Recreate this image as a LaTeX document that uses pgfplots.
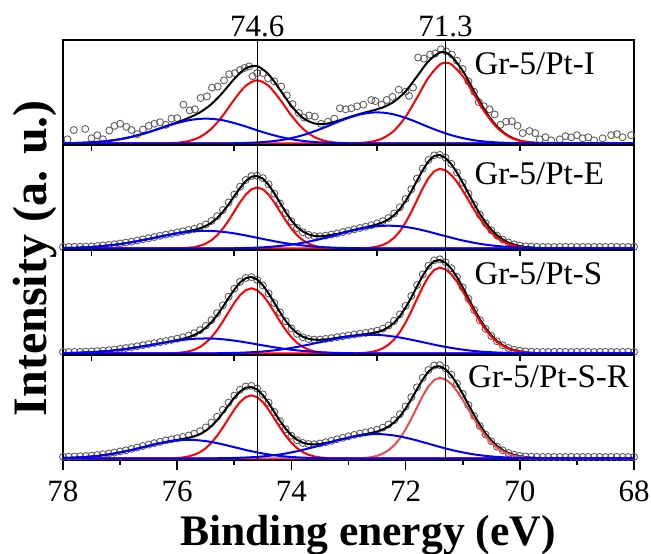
\documentclass[border=0pt]{standalone}
\usepackage{pgfplots}
\usepackage{pgfplotstable}
\pgfplotsset{compat=1.18}
\usepackage{fontspec}
\setmainfont{Liberation Serif}
\definecolor{dgray}{RGB}{95,95,95}
\definecolor{lred}{RGB}{240,75,75}

\pgfplotstableread{
x r1 r2 b1 b2 env
78.0 0 0 .002 0 .002
77.8 0 0 .004 0 .004
77.6 0 0 .008 0 .008
77.4 0 0 .014 0 .014
77.2 0 0 .025 0 .025
77.0 0 0 .041 0 .041
76.8 0 0 .064 0 .064
76.6 0 0 .093 0 .093
76.4 0 0 .127 0 .127
76.2 .002 0 .164 0 .166
76.0 .007 0 .197 0 .204
75.8 .023 0 .224 0 .247
75.6 .063 0 .238 0 .301
75.4 .143 0 .238 0 .381
75.2 .270 0 .224 0 .494
75.0 .425 0 .197 .002 .624
74.8 .557 0 .164 .005 .726
74.6 .610 0 .127 .010 .747
74.4 .557 0 .093 .018 .668
74.2 .425 0 .064 .031 .520
74.0 .270 0 .041 .052 .363
73.8 .143 0 .025 .080 .248
73.6 .063 0 .014 .117 .194
73.4 .023 0 .008 .159 .190
73.2 .007 0 .004 .205 .216
73.0 .002 .001 .002 .247 .252
72.8 0 .005 .001 .280 .286
72.6 0 .017 0 .298 .315
72.4 0 .050 0 .298 .348
72.2 0 .125 0 .280 .405
72.0 0 .257 0 .247 .504
71.8 0 .443 0 .205 .648
71.6 0 .636 0 .159 .795
71.4 0 .763 0 .117 .880
71.3 0 .780 0 .098 .878
71.2 0 .765 0 .080 .845
71.0 0 .651 0 .052 .703
70.8 0 .473 0 .031 .504
70.6 0 .293 0 .018 .311
70.4 0 .154 0 .010 .164
70.2 0 .069 0 .005 .074
70.0 0 .026 0 .002 .028
69.8 0 .009 0 .001 .010
69.6 0 .002 0 0 .002
69.4 0 0 0 0 0
69.2 0 0 0 0 0
69.0 0 0 0 0 0
68.8 0 0 0 0 0
68.6 0 0 0 0 0
68.4 0 0 0 0 0
68.2 0 0 0 0 0
68.0 0 0 0 0 0
}\pone

\pgfplotstableread{
x y
77.92 0.04
77.81 0.13
77.61 0.14
77.50 0.05
77.40 0.08
77.30 0.04
77.19 0.125
77.10 0.17
77.00 0.19
76.89 0.16
76.80 0.13
76.70 0.09
76.60 0.135
76.50 0.17
76.40 0.19
76.30 0.205
76.20 0.18
76.10 0.24
76.00 0.245
75.89 0.375
75.78 0.32
75.69 0.33
75.59 0.44
75.48 0.455
75.39 0.54
75.29 0.55
75.18 0.61
75.09 0.67
74.99 0.68
74.90 0.71
74.82 0.73
74.74 0.745
74.68 0.65
74.60 0.68
74.50 0.68
74.41 0.63
74.30 0.60
74.18 0.55
74.08 0.465
73.98 0.38
73.87 0.295
73.78 0.25
73.69 0.27
73.59 0.26
73.48 0.19
73.36 0.21
73.25 0.24
73.15 0.34
73.05 0.33
72.95 0.34
72.85 0.36
72.74 0.375
72.60 0.42
72.53 0.41
72.42 0.375
72.33 0.42
72.23 0.45
72.12 0.52
72.00 0.50
71.94 0.46
71.87 0.54
71.78 0.83
71.68 0.82
71.57 0.86
71.48 0.87
71.38 0.91
71.29 0.89
71.19 0.86
71.10 0.80
71.00 0.72
70.90 0.60
70.80 0.50
70.72 0.40
70.63 0.36
70.53 0.33
70.44 0.28
70.34 0.18
70.24 0.21
70.14 0.215
70.04 0.17
69.95 0.10
69.83 0.12
69.73 0.10
69.65 0.04
69.55 0.06
69.45 0.03
69.30 0.04
69.20 0.07
69.10 0.06
69.00 0.08
68.90 0.05
68.80 0.06
68.70 0.03
68.55 0.05
68.40 0.08
68.30 0.09
68.20 0.06
68.05 0.08
}\poned

\pgfplotstableread{
x r1 r2 b1 b2 env dat
78.0 0 0 .004 0 .004 .015
77.9 0 0 .005 0 .005 .015
77.8 0 0 .006 0 .006 .016
77.7 0 0 .009 0 .009 .017
77.6 0 0 .011 0 .011 .018
77.5 0 0 .014 0 .014 .020
77.4 0 0 .018 0 .018 .024
77.3 0 0 .023 0 .023 .029
77.2 0 0 .029 0 .029 .035
77.1 0 0 .035 0 .035 .041
77.0 0 0 .042 0 .042 .048
76.9 0 0 .051 0 .051 .057
76.8 0 0 .060 0 .060 .066
76.7 0 0 .070 0 .070 .077
76.6 0 0 .081 0 .081 .088
76.5 0 0 .092 0 .092 .099
76.4 0 0 .103 0 .103 .110
76.3 0 0 .115 0 .115 .122
76.2 0 0 .126 0 .126 .133
76.1 .001 0 .136 0 .137 .144
76.0 .001 0 .146 0 .147 .155
75.9 .003 0 .154 0 .157 .166
75.8 .007 0 .161 0 .168 .178
75.7 .013 0 .166 0 .179 .190
75.6 .026 0 .169 0 .195 .208
75.5 .047 0 .170 0 .217 .232
75.4 .080 0 .169 0 .249 .266
75.3 .127 0 .166 .001 .294 .312
75.2 .192 0 .161 .001 .354 .372
75.1 .270 0 .154 .002 .426 .445
75.0 .358 0 .146 .002 .506 .522
74.9 .445 0 .136 .003 .584 .598
74.8 .521 0 .126 .005 .652 .662
74.7 .572 0 .115 .006 .693 .700
74.6 .590 0 .103 .008 .701 .703
74.5 .572 0 .092 .011 .675 .680
74.4 .521 0 .081 .014 .616 .620
74.3 .445 0 .070 .019 .534 .530
74.2 .358 0 .060 .024 .442 .435
74.1 .270 0 .051 .030 .351 .343
74.0 .192 0 .042 .037 .271 .262
73.9 .127 0 .035 .045 .207 .198
73.8 .080 0 .029 .055 .164 .157
73.7 .047 0 .023 .066 .136 .132
73.6 .026 0 .018 .077 .121 .120
73.5 .013 0 .014 .090 .117 .118
73.4 .007 0 .011 .104 .122 .124
73.3 .003 0 .009 .119 .131 .134
73.2 .001 0 .006 .133 .140 .144
73.1 .001 0 .005 .148 .154 .158
73.0 0 0 .004 .163 .167 .171
72.9 0 .001 .003 .176 .180 .185
72.8 0 .002 .002 .189 .193 .198
72.7 0 .004 .001 .199 .204 .210
72.6 0 .009 .001 .208 .218 .225
72.5 0 .018 0 .215 .233 .242
72.4 0 .034 0 .219 .253 .264
72.3 0 .061 0 .220 .281 .294
72.2 0 .104 0 .219 .323 .338
72.1 0 .166 0 .215 .381 .398
72.0 0 .250 0 .208 .458 .478
71.9 0 .353 0 .199 .552 .572
71.8 0 .467 0 .189 .656 .675
71.7 0 .581 0 .176 .757 .772
71.6 0 .680 0 .163 .843 .855
71.5 0 .746 0 .148 .894 .900
71.4 0 .770 0 .133 .903 .905
71.3 0 .755 0 .119 .874 .878
71.2 0 .711 0 .104 .815 .818
71.1 0 .643 0 .090 .733 .735
71.0 0 .559 0 .077 .636 .636
70.9 0 .467 0 .066 .533 .530
70.8 0 .375 0 .055 .430 .424
70.7 0 .289 0 .045 .334 .326
70.6 0 .214 0 .037 .251 .243
70.5 0 .152 0 .030 .182 .176
70.4 0 .104 0 .024 .128 .124
70.3 0 .069 0 .019 .088 .086
70.2 0 .043 0 .014 .057 .058
70.1 0 .026 0 .011 .037 .040
70.0 0 .015 0 .008 .023 .028
69.9 0 .008 0 .006 .014 .021
69.8 0 .005 0 .005 .010 .018
69.7 0 .002 0 .003 .005 .016
69.6 0 .001 0 .002 .003 .015
69.5 0 0 0 .002 .002 .015
69.4 0 0 0 .001 .001 .014
69.3 0 0 0 .001 .001 .015
69.2 0 0 0 0 0 .016
69.1 0 0 0 0 0 .015
69.0 0 0 0 0 0 .014
68.9 0 0 0 0 0 .015
68.8 0 0 0 0 0 .016
68.7 0 0 0 0 0 .015
68.6 0 0 0 0 0 .014
68.5 0 0 0 0 0 .015
68.4 0 0 0 0 0 .016
68.3 0 0 0 0 0 .015
68.2 0 0 0 0 0 .014
68.1 0 0 0 0 0 .015
68.0 0 0 0 0 0 .016
}\ptwo

\pgfplotstableread{
x r1 r2 b1 b2 env dat
78.0 0 0 .003 0 .003 .014
77.9 0 0 .004 0 .004 .014
77.8 0 0 .006 0 .006 .015
77.7 0 0 .007 0 .007 .016
77.6 0 0 .010 0 .010 .018
77.5 0 0 .012 0 .012 .020
77.4 0 0 .016 0 .016 .023
77.3 0 0 .020 0 .020 .027
77.2 0 0 .024 0 .024 .032
77.1 0 0 .030 0 .030 .038
77.0 0 0 .036 0 .036 .045
76.9 0 0 .043 0 .043 .053
76.8 0 0 .051 0 .051 .061
76.7 0 0 .060 0 .060 .070
76.6 0 0 .069 0 .069 .080
76.5 0 0 .078 0 .078 .090
76.4 0 0 .088 0 .088 .100
76.3 0 0 .098 0 .098 .110
76.2 .001 0 .107 0 .108 .121
76.1 .002 0 .116 0 .118 .131
76.0 .005 0 .124 0 .129 .143
75.9 .011 0 .131 0 .142 .157
75.8 .020 0 .137 0 .157 .173
75.7 .037 0 .142 0 .179 .196
75.6 .063 0 .144 0 .207 .225
75.5 .103 0 .145 .001 .249 .268
75.4 .157 0 .144 .001 .302 .322
75.3 .227 0 .142 .002 .371 .390
75.2 .310 0 .137 .003 .450 .466
75.1 .400 0 .131 .004 .535 .548
75.0 .488 0 .124 .005 .617 .626
74.9 .563 0 .116 .007 .686 .692
74.8 .612 0 .107 .009 .728 .730
74.7 .630 0 .098 .012 .740 .738
74.6 .612 0 .088 .015 .715 .712
74.5 .563 0 .078 .019 .660 .658
74.4 .488 0 .069 .024 .581 .580
74.3 .400 0 .060 .030 .490 .488
74.2 .310 0 .051 .037 .398 .396
74.1 .227 0 .043 .045 .315 .312
74.0 .157 0 .036 .054 .247 .242
73.9 .103 0 .030 .063 .196 .190
73.8 .063 0 .024 .074 .161 .156
73.7 .037 0 .020 .085 .142 .140
73.6 .020 0 .016 .097 .133 .134
73.5 .011 0 .012 .109 .132 .135
73.4 .005 0 .010 .121 .136 .141
73.3 .002 0 .007 .133 .142 .148
73.2 .001 0 .006 .144 .151 .158
73.1 0 0 .004 .154 .158 .166
73.0 0 0 .003 .163 .166 .175
72.9 0 .001 .002 .170 .173 .183
72.8 0 .003 .002 .176 .181 .192
72.7 0 .007 .001 .179 .187 .199
72.6 0 .014 .001 .180 .195 .208
72.5 0 .027 0 .179 .206 .220
72.4 0 .049 0 .176 .225 .240
72.3 0 .084 0 .170 .254 .270
72.2 0 .135 0 .163 .298 .315
72.1 0 .207 0 .154 .361 .378
72.0 0 .299 0 .144 .443 .460
71.9 0 .408 0 .133 .541 .556
71.8 0 .527 0 .121 .648 .662
71.7 0 .643 0 .109 .752 .764
71.6 0 .741 0 .097 .838 .848
71.5 0 .807 0 .085 .892 .900
71.4 0 .830 0 .074 .904 .910
71.3 0 .813 0 .063 .876 .882
71.2 0 .766 0 .054 .820 .824
71.1 0 .693 0 .045 .738 .740
71.0 0 .603 0 .037 .640 .638
70.9 0 .503 0 .030 .533 .528
70.8 0 .404 0 .024 .428 .420
70.7 0 .311 0 .019 .330 .322
70.6 0 .231 0 .015 .246 .238
70.5 0 .164 0 .012 .176 .170
70.4 0 .112 0 .009 .121 .118
70.3 0 .074 0 .007 .081 .080
70.2 0 .046 0 .005 .051 .053
70.1 0 .028 0 .004 .032 .036
70.0 0 .017 0 .003 .020 .026
69.9 0 .009 0 .002 .011 .020
69.8 0 .005 0 .001 .006 .017
69.7 0 .002 0 .001 .003 .015
69.6 0 .001 0 .001 .002 .015
69.5 0 0 0 0 0 .014
69.4 0 0 0 0 0 .015
69.3 0 0 0 0 0 .016
69.2 0 0 0 0 0 .015
69.1 0 0 0 0 0 .014
69.0 0 0 0 0 0 .015
68.9 0 0 0 0 0 .016
68.8 0 0 0 0 0 .015
68.7 0 0 0 0 0 .014
68.6 0 0 0 0 0 .015
68.5 0 0 0 0 0 .016
68.4 0 0 0 0 0 .015
68.3 0 0 0 0 0 .014
68.2 0 0 0 0 0 .015
68.1 0 0 0 0 0 .016
68.0 0 0 0 0 0 .015
}\pthree

\pgfplotstableread{
x r1 r2 b1 b2 env dat
78.0 0 0 .004 0 .004 .016
77.9 0 0 .006 0 .006 .017
77.8 0 0 .008 0 .008 .019
77.7 0 0 .011 0 .011 .021
77.6 0 0 .014 0 .014 .024
77.5 0 0 .019 0 .019 .028
77.4 0 0 .024 0 .024 .033
77.3 0 0 .031 0 .031 .040
77.2 0 0 .039 0 .039 .048
77.1 0 0 .048 0 .048 .057
77.0 0 0 .059 0 .059 .068
76.9 0 0 .070 0 .070 .079
76.8 0 0 .082 0 .082 .092
76.7 0 0 .096 0 .096 .106
76.6 0 0 .109 0 .109 .120
76.5 0 0 .123 0 .123 .134
76.4 0 0 .136 0 .136 .148
76.3 0 0 .148 0 .148 .161
76.2 .001 0 .159 0 .160 .174
76.1 .002 0 .168 0 .170 .185
76.0 .005 0 .174 0 .179 .196
75.9 .010 0 .179 0 .189 .208
75.8 .020 0 .180 0 .200 .222
75.7 .036 0 .179 0 .215 .240
75.6 .061 0 .174 0 .235 .264
75.5 .099 0 .168 .001 .268 .300
75.4 .152 0 .159 .001 .312 .346
75.3 .220 0 .148 .002 .370 .404
75.2 .300 0 .136 .003 .439 .470
75.1 .387 0 .123 .004 .514 .540
75.0 .473 0 .109 .005 .587 .608
74.9 .545 0 .096 .007 .648 .664
74.8 .593 0 .082 .009 .684 .696
74.7 .610 0 .070 .012 .692 .702
74.6 .593 0 .059 .015 .667 .676
74.5 .545 0 .048 .020 .613 .620
74.4 .473 0 .039 .025 .537 .540
74.3 .387 0 .031 .032 .450 .450
74.2 .300 0 .024 .039 .363 .360
74.1 .220 0 .019 .048 .287 .282
74.0 .152 0 .014 .059 .225 .220
73.9 .099 0 .011 .070 .180 .176
73.8 .061 0 .008 .083 .152 .150
73.7 .036 0 .006 .097 .139 .140
73.6 .020 0 .004 .111 .135 .138
73.5 .010 0 .003 .127 .140 .145
73.4 .005 0 .002 .143 .150 .157
73.3 .002 0 .001 .158 .161 .170
73.2 .001 0 .001 .174 .176 .186
73.1 0 0 0 .188 .188 .200
73.0 0 0 0 .201 .201 .214
72.9 0 .001 0 .213 .214 .228
72.8 0 .003 0 .222 .225 .240
72.7 0 .006 0 .229 .235 .251
72.6 0 .013 0 .234 .247 .264
72.5 0 .025 0 .235 .260 .278
72.4 0 .046 0 .234 .280 .298
72.3 0 .079 0 .229 .308 .328
72.2 0 .127 0 .222 .349 .370
72.1 0 .194 0 .213 .407 .428
72.0 0 .281 0 .201 .482 .503
71.9 0 .384 0 .188 .572 .592
71.8 0 .495 0 .174 .669 .688
71.7 0 .605 0 .158 .763 .780
71.6 0 .697 0 .143 .840 .855
71.5 0 .758 0 .127 .885 .898
71.4 0 .780 0 .111 .891 .902
71.3 0 .764 0 .097 .861 .870
71.2 0 .720 0 .083 .803 .810
71.1 0 .651 0 .070 .721 .724
71.0 0 .566 0 .059 .625 .624
70.9 0 .473 0 .048 .521 .516
70.8 0 .380 0 .039 .419 .410
70.7 0 .293 0 .032 .325 .314
70.6 0 .217 0 .025 .242 .232
70.5 0 .154 0 .020 .174 .166
70.4 0 .105 0 .015 .120 .114
70.3 0 .069 0 .012 .081 .078
70.2 0 .044 0 .009 .053 .053
70.1 0 .027 0 .007 .034 .036
70.0 0 .016 0 .005 .021 .026
69.9 0 .009 0 .004 .013 .020
69.8 0 .005 0 .003 .008 .017
69.7 0 .002 0 .002 .004 .016
69.6 0 .001 0 .001 .002 .015
69.5 0 0 0 .001 .001 .015
69.4 0 0 0 0 0 .015
69.3 0 0 0 0 0 .014
69.2 0 0 0 0 0 .015
69.1 0 0 0 0 0 .016
69.0 0 0 0 0 0 .015
68.9 0 0 0 0 0 .014
68.8 0 0 0 0 0 .015
68.7 0 0 0 0 0 .016
68.6 0 0 0 0 0 .015
68.5 0 0 0 0 0 .014
68.4 0 0 0 0 0 .015
68.3 0 0 0 0 0 .016
68.2 0 0 0 0 0 .015
68.1 0 0 0 0 0 .014
68.0 0 0 0 0 0 .015
}\pfour

\pgfplotsset{
  panel/.style={scale only axis, width=285.5pt, height=52.5pt,
    xmin=68, xmax=78, x dir=reverse, ymin=-0.015, ymax=1, ytick=\empty,
    axis line style={line width=0.9pt}, clip mode=individual,
    tick style={black, line width=0.8pt}, tick align=outside, xtick pos=left},
  upper/.style={panel, xtick={70,72.5,75,77.5}, xticklabels={}, major tick length=3pt},
  dat/.style={only marks, mark=o, mark size=1.75pt, draw=dgray, mark options={line width=0.45pt}},
  env/.style={black, line width=1pt},
  pk/.style={red, line width=1pt},
  bk/.style={blue, line width=1pt},
  vline/.style={black, line width=0.5pt}
}
\tikzset{lab/.style={anchor=base west, inner sep=0pt, font=\fontsize{16.5}{20}\selectfont}}

\begin{document}
\begin{tikzpicture}
% panel 1
\begin{axis}[upper, at={(0,0)}, anchor=north west]
\addplot[dat] table[x=x,y=y]{\poned};
\addplot[env, smooth] table[x=x,y=env]{\pone};
\addplot[pk, smooth] table[x=x,y=r1]{\pone};
\addplot[pk, smooth] table[x=x,y=r2]{\pone};
\addplot[bk, smooth] table[x=x,y=b1]{\pone};
\addplot[bk, smooth] table[x=x,y=b2]{\pone};
\addplot[vline] coordinates {(74.6,-0.015) (74.6,1)};
\addplot[vline] coordinates {(71.3,-0.015) (71.3,1)};
\node[lab] at (rel axis cs:0.72,0.667) {Gr-5/Pt-I};
\node[anchor=base, inner sep=0pt, yshift=2pt, font=\fontsize{15.5}{18}\selectfont] at (axis cs:74.6,1) {74.6};
\node[anchor=base, inner sep=0pt, yshift=2pt, font=\fontsize{15.5}{18}\selectfont] at (axis cs:71.3,1) {71.3};
\end{axis}
% panel 2
\begin{axis}[upper, at={(0,-52.5pt)}, anchor=north west]
\addplot[dat] table[x=x,y=dat]{\ptwo};
\addplot[env] table[x=x,y=env]{\ptwo};
\addplot[pk] table[x=x,y=r1]{\ptwo};
\addplot[pk] table[x=x,y=r2]{\ptwo};
\addplot[bk] table[x=x,y=b1]{\ptwo};
\addplot[bk] table[x=x,y=b2]{\ptwo};
\addplot[vline] coordinates {(74.6,-0.015) (74.6,1)};
\addplot[vline] coordinates {(71.3,-0.015) (71.3,1)};
\node[lab] at (rel axis cs:0.72,0.627) {Gr-5/Pt-E};
\end{axis}
% panel 3
\begin{axis}[upper, at={(0,-105pt)}, anchor=north west]
\addplot[dat] table[x=x,y=dat]{\pthree};
\addplot[env] table[x=x,y=env]{\pthree};
\addplot[pk] table[x=x,y=r1]{\pthree};
\addplot[pk] table[x=x,y=r2]{\pthree};
\addplot[bk] table[x=x,y=b1]{\pthree};
\addplot[bk] table[x=x,y=b2]{\pthree};
\addplot[vline] coordinates {(74.6,-0.015) (74.6,1)};
\addplot[vline] coordinates {(71.3,-0.015) (71.3,1)};
\node[lab] at (rel axis cs:0.72,0.675) {Gr-5/Pt-S};
\end{axis}
% panel 4
\begin{axis}[panel, at={(0,-157.5pt)}, anchor=north west,
  xtick={68,70,...,78}, minor xtick={69,71,...,77},
  major tick length=5pt, minor tick length=2.5pt,
  xticklabel style={font=\fontsize{15.5}{18}\selectfont, yshift=-2pt},
  /pgf/number format/assume math mode=true]
\addplot[dat] table[x=x,y=dat]{\pfour};
\addplot[env] table[x=x,y=env]{\pfour};
\addplot[pk] table[x=x,y=r1]{\pfour};
\addplot[lred, line width=1pt] table[x=x,y=r2]{\pfour};
\addplot[bk] table[x=x,y=b1]{\pfour};
\addplot[bk] table[x=x,y=b2]{\pfour};
\addplot[vline] coordinates {(74.6,-0.015) (74.6,1)};
\addplot[vline] coordinates {(71.3,-0.015) (71.3,1)};
\node[lab] at (rel axis cs:0.709,0.69) {Gr-5/Pt-S-R};
\end{axis}
\node[rotate=90, anchor=base, inner sep=0pt, font=\bfseries\fontsize{24}{28}\selectfont] at (-8.5pt,-109pt) {Intensity (a. u.)};
\node[anchor=base, inner sep=0pt, font=\bfseries\fontsize{21.8}{26}\selectfont] at (152.5pt,-252.5pt) {Binding energy (eV)};
\pgfresetboundingbox
\path[use as bounding box] (-31.5pt,-256.5pt) rectangle (294pt,20pt);
\end{tikzpicture}
\end{document}
